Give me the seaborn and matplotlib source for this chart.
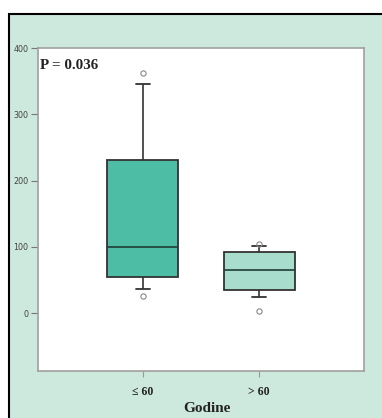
import numpy as np
import pandas as pd
import seaborn as sns
import matplotlib
matplotlib.use("Agg")
import matplotlib.pyplot as plt
from matplotlib.patches import Rectangle

# Values: [low outlier, low whisker, Q1, Q1, median, Q3, Q3, high whisker, high outlier]
group_labels = ["≤ 60", "> 60"]
values_le60 = [26, 37, 54, 54, 100, 231, 231, 346, 362]
values_gt60 = [3, 24, 35, 35, 65, 92, 92, 101, 105]
box_colors = ["#4dbea5", "#a8ddcd"]
y_ticks = [0, 100, 200, 300, 400]
p_text = "P = 0.036"
x_title = "Godine"

df = pd.DataFrame({
    "Godine": [group_labels[0]] * len(values_le60) + [group_labels[1]] * len(values_gt60),
    "value": values_le60 + values_gt60,
})

sns.set_theme(style="white")
bg = "#cde8dd"
fig = plt.figure(figsize=(3.82, 4.18), dpi=100, facecolor="white")
# panel background with black frame on top/left
fig.patches.append(Rectangle((9 / 382, -0.1), 1.2, (418 - 14) / 418 + 0.1,
                             transform=fig.transFigure, facecolor=bg,
                             edgecolor="black", linewidth=1.5, zorder=-10))

ax = fig.add_axes([38 / 382, 47 / 418, 326 / 382, 323 / 418])
ax.set_zorder(1)
ax.set_facecolor("white")

sns.boxplot(data=df, x="Godine", y="value", hue="Godine", palette=box_colors,
            order=group_labels, hue_order=group_labels, legend=False,
            width=0.61, whis=(12.5, 87.5), ax=ax, saturation=1,
            linecolor="#333333", linewidth=1.3,
            medianprops=dict(color="#1f3d36", linewidth=1.2),
            capprops=dict(color="#333333", linewidth=1.3),
            whiskerprops=dict(color="#333333", linewidth=1.2),
            flierprops=dict(marker="o", markerfacecolor="none",
                            markeredgecolor="#888888", markersize=3.8,
                            markeredgewidth=0.8),
            capwidths=0.12)

ax.set_xlim(-0.9, 1.9)
ax.set_ylim(-87, 400)
ax.set_yticks(y_ticks)
ax.set_yticklabels([str(t) for t in y_ticks], fontsize=5.8, color="#444444",
                   family="DejaVu Sans")
ax.set_xticks([0, 1])
ax.set_xticklabels(group_labels, fontsize=8.5, color="#222222",
                   family="Liberation Serif", fontweight="bold")
ax.tick_params(axis="y", length=5, width=0.8, color="#777777", pad=2, left=True)
ax.tick_params(axis="x", length=4, width=0.8, color="#999999", pad=7, bottom=True)
ax.set_ylabel("")
ax.set_xlabel(x_title, fontsize=11, fontweight="bold", family="Liberation Serif",
              color="#222222", labelpad=3)
ax.xaxis.set_label_coords(0.518, -0.097)
for s in ax.spines.values():
    s.set_color("#a0a0a0")
    s.set_linewidth(1.2)
    s.set_visible(True)

ax.text(0.006, 0.945, p_text, transform=ax.transAxes, fontsize=10.8,
        fontweight="bold", family="Liberation Serif", color="#222222",
        va="center", ha="left")

fig.savefig("out.png", dpi=100, facecolor="white")
